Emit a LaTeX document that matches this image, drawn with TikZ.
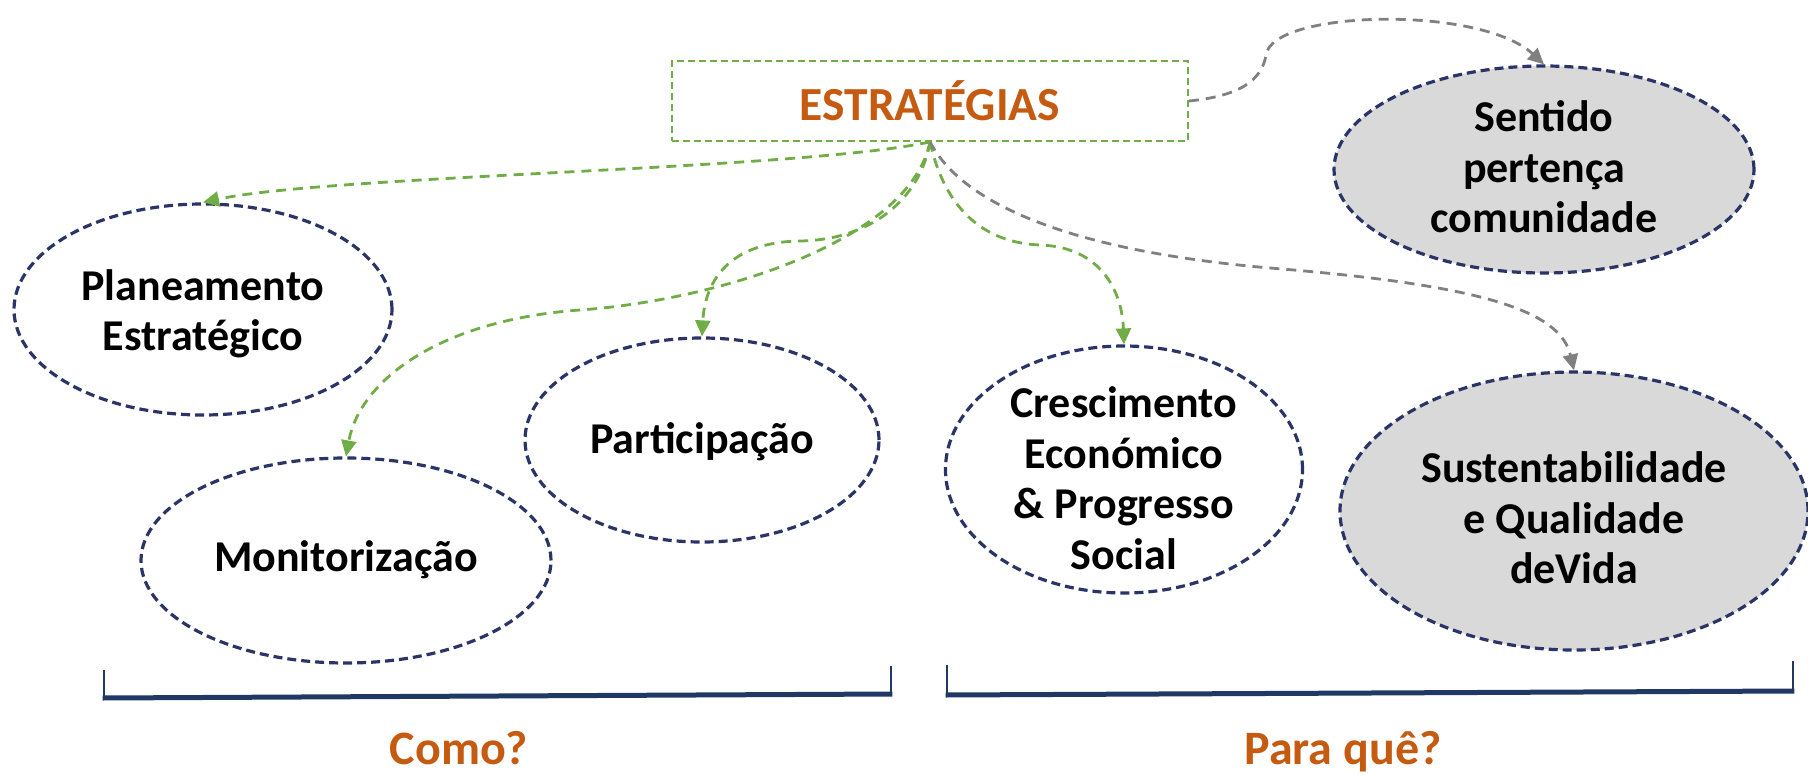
\documentclass[tikz,border=0pt]{standalone}
\usepackage{fontspec}
\setmainfont{Carlito}
\usetikzlibrary{shapes.geometric,arrows.meta}
\definecolor{cgreen}{HTML}{70AD47}
\definecolor{cgray}{HTML}{808080}
\definecolor{cnavy}{HTML}{2B3467}
\definecolor{corange}{HTML}{C55A11}
\definecolor{cfill}{HTML}{D9D9D9}
\definecolor{cbracket}{HTML}{1F3864}
\begin{document}
\begin{tikzpicture}[x=1pt,y=-1pt,
  oval/.style={ellipse, draw=cnavy, line width=3.2pt, dash pattern=on 9pt off 5pt, inner sep=0pt},
  lbl/.style={align=center, font=\fontsize{44}{50.5}\selectfont\bfseries, inner sep=0pt},
  qlbl/.style={font=\fontsize{48}{54}\selectfont\bfseries, text=corange, inner sep=0pt, anchor=base},
  box/.style={draw=cgreen, line width=1.8pt, dash pattern=on 7pt off 4pt, minimum width=516pt, minimum height=80pt, inner sep=0pt, font=\fontsize{47.5}{50}\selectfont\bfseries, text=corange},
  gconn/.style={draw=cgreen, line width=2.8pt, dash pattern=on 10pt off 7pt, -{Triangle[length=16pt,width=15pt]}},
  yconn/.style={draw=cgray, line width=2.8pt, dash pattern=on 10pt off 7pt, -{Triangle[length=16pt,width=15pt]}},
  brk/.style={draw=cbracket, line width=2.6pt},
  brkbase/.style={draw=cbracket, line width=5pt}]
\useasboundingbox (0,0) rectangle (1808,776);

% central box
\node[box] (estr) at (930,101) {ESTRATÉGIAS};

% ellipses
\node[oval, minimum width=378pt, minimum height=211pt] (plan) at (203,309.5) {};
\node[oval, minimum width=410pt, minimum height=205pt] (moni) at (346,560.5) {};
\node[oval, minimum width=354pt, minimum height=204pt] (part) at (702,440) {};
\node[oval, minimum width=357pt, minimum height=247pt] (cres) at (1124,469.5) {};
\node[oval, fill=cfill, minimum width=420pt, minimum height=207pt] (sent) at (1544,169.5) {};
\node[oval, fill=cfill, minimum width=468pt, minimum height=278pt] (sust) at (1574,511) {};

% labels
\node[lbl] (tplan) at (203,314) {Planeamento\\Estratégico};
\node[lbl] (tmoni) at (346,560) {Monitorização};
\node[lbl] (tpart) at (702,442) {Participação};
\node[lbl] (tcres) at (1124,478) {Crescimento\\Económico\\\& Progresso\\Social};
\node[lbl] (tsent) at (1544,167) {Sentido\\pertença\\comunidade};
\node[lbl] (tsust) at (1574,518) {Sustentabilidade\\e Qualidade\\deVida};

% connectors
\draw[gconn] (estr.south) .. controls (800,170) and (330,175) .. (plan.north);
\draw[gconn] (estr.south) .. controls (920,200) and (870,240) .. (800,241) .. controls (730,242) and (705,280) .. (part.north);
\draw[gconn] (estr.south) .. controls (910,240) and (720,300) .. (580,310) .. controls (440,320) and (360,380) .. (moni.north);
\draw[gconn] (estr.south) .. controls (945,210) and (985,243) .. (1040,245) .. controls (1100,247) and (1122,290) .. (cres.north);
\draw[yconn] (estr.south) .. controls (960,200) and (1060,250) .. (1270,268) .. controls (1480,285) and (1560,310) .. (sust.north);
\draw[yconn] (estr.east) .. controls (1240,96) and (1262,80) .. (1266,55) .. controls (1272,10) and (1480,5) .. (sent.north);

% brackets
\draw[brk] (104,670) -- (104,697);
\draw[brk] (891,666) -- (891,693);
\draw[brkbase] (102.7,698) -- (892.3,694);
\draw[brk] (947,665) -- (947,694);
\draw[brk] (1793,661) -- (1793,690);
\draw[brkbase] (945.7,695) -- (1794.3,691);

\node[qlbl] (como) at (459,764) {Como?};
\node[qlbl] (para) at (1343,764) {Para quê?};
\end{tikzpicture}
\end{document}
